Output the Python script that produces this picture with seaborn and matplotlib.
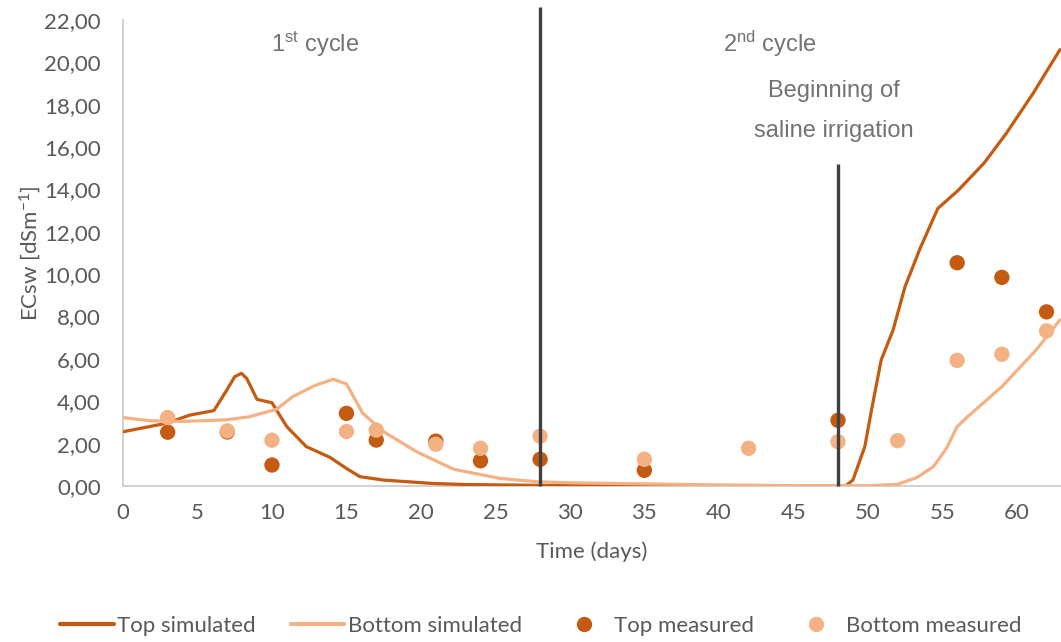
import matplotlib
matplotlib.use("Agg")
import matplotlib.pyplot as plt
import seaborn as sns
import pandas as pd
from matplotlib.lines import Line2D

# ---------------- data ----------------
top_sim_days = [0, 2.9, 4.5, 6.1, 6.9, 7.5, 7.95, 8.3, 9.0, 10.0, 10.3, 11.0, 12.3, 13.9, 15.0,
                15.9, 17.5, 20.8, 23, 28, 35, 40, 45, 48.5, 49.0, 49.8, 50.25, 50.9, 51.7,
                52.5, 53.5, 54.7, 56.1, 57.8, 59.3, 61.1, 62.9]
top_sim = [2.56, 2.96, 3.35, 3.56, 4.45, 5.16, 5.32, 5.08, 4.09, 3.93, 3.59, 2.8, 1.86, 1.35, 0.83,
           0.44, 0.28, 0.12, 0.07, 0.03, 0.01, 0.0, 0.0, 0.0, 0.28, 1.86, 3.59, 5.95, 7.37,
           9.41, 11.2, 13.1, 13.98, 15.24, 16.65, 18.54, 20.6]

bot_sim_days = [0, 1.8, 4.0, 6.9, 8.5, 10.3, 11.4, 12.8, 14.1, 15.0, 16.1, 17.5, 19.7, 22.2,
                25.3, 27.8, 30, 35, 40, 45, 50, 52, 53.3, 54.4, 55.3, 56.0, 56.7, 59.0, 61.3, 62.9]
bot_sim = [3.23, 3.08, 3.05, 3.12, 3.27, 3.62, 4.22, 4.72, 5.04, 4.82, 3.43, 2.56, 1.62, 0.79,
           0.36, 0.2, 0.15, 0.1, 0.05, 0.02, 0.01, 0.08, 0.4, 0.91, 1.8, 2.8, 3.27, 4.69, 6.42, 7.84]

top_meas_days = [3, 7, 10, 15, 17, 21, 24, 28, 35, 48, 56, 59, 62]
top_meas = [2.54, 2.55, 0.99, 3.43, 2.17, 2.12, 1.19, 1.26, 0.74, 3.1, 10.54, 9.85, 8.22]

bot_meas_days = [3, 7, 10, 15, 17, 21, 24, 28, 35, 42, 48, 52, 56, 59, 62]
bot_meas = [3.23, 2.6, 2.16, 2.57, 2.64, 1.97, 1.78, 2.35, 1.26, 1.78, 2.09, 2.14, 5.93, 6.22, 7.32]

event_days = [28, 48]
event_tops = [22.6, 15.2]

x_ticks = [0, 5, 10, 15, 20, 25, 30, 35, 40, 45, 50, 55, 60]
y_ticks = [0, 2, 4, 6, 8, 10, 12, 14, 16, 18, 20, 22]
y_tick_labels = ["0,00", "2,00", "4,00", "6,00", "8,00", "10,00", "12,00", "14,00",
                 "16,00", "18,00", "20,00", "22,00"]

series_names = ["Top simulated", "Bottom simulated", "Top measured", "Bottom measured"]

# ---------------- style ----------------
sns.set_theme(style="white")
plt.rcParams['font.family'] = ['Lato', 'DejaVu Sans']
plt.rcParams['mathtext.fontset'] = 'custom'
plt.rcParams['mathtext.rm'] = 'Liberation Sans'
plt.rcParams['mathtext.it'] = 'Liberation Sans'
plt.rcParams['mathtext.default'] = 'regular'

DARK = "#C55A11"
LIGHT = "#F4B183"
TXT = "#595959"
ANN = "#767171"

fig = plt.figure(figsize=(10.61, 6.42), dpi=100)
ax = fig.add_axes([123 / 1061, 1 - 486 / 642, 1 - 123 / 1061, (486 - 20) / 642])

sns.lineplot(x=top_sim_days, y=top_sim, ax=ax, color=DARK, linewidth=2.3, sort=False,
             estimator=None, zorder=3)
sns.lineplot(x=bot_sim_days, y=bot_sim, ax=ax, color=LIGHT, linewidth=2.3, sort=False,
             estimator=None, zorder=3)
sns.scatterplot(x=top_meas_days, y=top_meas, ax=ax, color=DARK, s=122, edgecolor='none',
                zorder=4)
sns.scatterplot(x=bot_meas_days, y=bot_meas, ax=ax, color=LIGHT, s=122, edgecolor='none',
                zorder=5)

ax.vlines(event_days, 0, event_tops, colors="#404040", linewidth=2.4, zorder=6, clip_on=False)

ax.set_xlim(0, 62.97)
ax.set_ylim(0, 22)
ax.set_xticks(x_ticks)
ax.set_xticklabels([str(t) for t in x_ticks])
ax.set_yticks(y_ticks)
ax.set_yticklabels(y_tick_labels)
ax.tick_params(axis='both', length=0, labelsize=16, colors=TXT)
ax.tick_params(axis='y', pad=16)
ax.tick_params(axis='x', pad=12)

for s in ['top', 'right']:
    ax.spines[s].set_visible(False)
for s in ['left', 'bottom']:
    ax.spines[s].set_color("#D0D0D0")
    ax.spines[s].set_linewidth(1.4)

ax.set_xlabel("Time (days)", fontsize=16, color=TXT)
ax.set_ylabel(r"ECsw [dSm$^{-1}$]", fontsize=16, color=TXT)
ax.xaxis.set_label_coords(0.5, -0.118)
ax.xaxis.label.set_va('top')
ax.yaxis.set_label_coords(-0.085, 0.5)

ann_kw = dict(fontsize=17, color=ANN, ha='center', va='center', family='Liberation Sans')
ax.text(12.9, 20.87, r"1$^{st}$ cycle", **ann_kw)
ax.text(43.4, 20.87, r"2$^{nd}$ cycle", **ann_kw)
ax.text(47.7, 18.65, "Beginning of", **ann_kw)
ax.text(47.7, 16.76, "saline irrigation", **ann_kw)

if ax.get_legend() is not None:
    ax.get_legend().remove()

handles = [
    Line2D([], [], color=DARK, linewidth=3),
    Line2D([], [], color=LIGHT, linewidth=3),
    Line2D([], [], color=DARK, marker='o', linestyle='none', markersize=10),
    Line2D([], [], color=LIGHT, marker='o', linestyle='none', markersize=10),
]
leg = fig.legend(handles, series_names, loc='center', bbox_to_anchor=(0.51, 1 - 626 / 642),
                 ncol=4, frameon=False, fontsize=16, handlelength=2.4, handletextpad=0.15,
                 columnspacing=1.6)
for t in leg.get_texts():
    t.set_color(TXT)

fig.savefig("out.png", dpi=100)
